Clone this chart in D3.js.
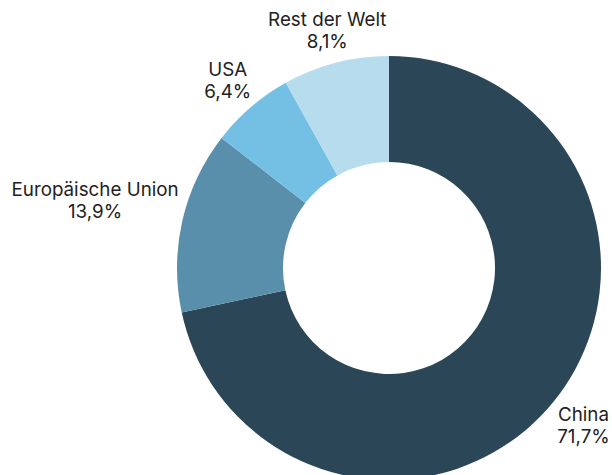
<!DOCTYPE html>
<html>
<head>
<meta charset="utf-8">
<script src="https://cdn.jsdelivr.net/npm/d3@7"></script>
<style>
  body { margin: 0; background: #fff; }
  svg { display: block; }
  text { font-family: Inter, "Liberation Sans", sans-serif; font-size: 18.8px; fill: #222; }
</style>
</head>
<body>
<div id="chart"></div>
<script>
// shares in percent, clockwise from 12 o'clock
const labels = ["China", "Europäische Union", "USA", "Rest der Welt"];
const shares = [71.7, 13.9, 6.4, 8.1];
const shareText = ["71,7%", "13,9%", "6,4%", "8,1%"];
const colors = ["#2b4656", "#5a8fac", "#74c0e5", "#b6dcee"];

const width = 612;
const height = 475;
const cx = 389;
const cy = 268;
const outerR = 212;
const innerR = 106;
const labelGap = 3;

const data = labels.map((l, i) => ({ label: l, value: shares[i], text: shareText[i], color: colors[i] }));

const svg = d3.select("#chart")
    .append("svg")
    .attr("width", width)
    .attr("height", height);

const g = svg.append("g")
    .attr("transform", "translate(" + cx + "," + cy + ")");

const pie = d3.pie()
    .value(d => d.value)
    .sort(null);

const arc = d3.arc()
    .innerRadius(innerR)
    .outerRadius(outerR);

const arcs = pie(data);

g.selectAll("path")
    .data(arcs)
    .enter()
    .append("path")
    .attr("d", arc)
    .attr("fill", d => d.data.color);

// labels: two lines, pushed out along the mid angle until the box clears the ring
const lab = g.selectAll("g.label")
    .data(arcs)
    .enter()
    .append("g")
    .attr("class", "label");

const txt = lab.append("text")
    .attr("text-anchor", "middle");
txt.append("tspan").attr("x", 0).attr("dy", 0).text(d => d.data.label);
txt.append("tspan").attr("x", 0).attr("dy", "1.17em").text(d => d.data.text);

lab.each(function(d) {
    const box = this.getBBox();
    const a = (d.startAngle + d.endAngle) / 2;
    const ux = Math.sin(a);
    const uy = -Math.cos(a);
    const ox = box.x + box.width / 2;
    const oy = box.y + box.height / 2;
    const hw = box.width / 2;
    const hh = box.height / 2;
    let r = outerR;
    for (; r < 500; r += 0.5) {
        const px = r * ux, py = r * uy;
        const dx = Math.max(0, Math.abs(px) - hw);
        const dy = Math.max(0, Math.abs(py) - hh);
        if (Math.sqrt(dx * dx + dy * dy) >= outerR + labelGap) break;
    }
    d3.select(this).attr("transform",
        "translate(" + (r * ux - ox) + "," + (r * uy - oy) + ")");
});
</script>
</body>
</html>
